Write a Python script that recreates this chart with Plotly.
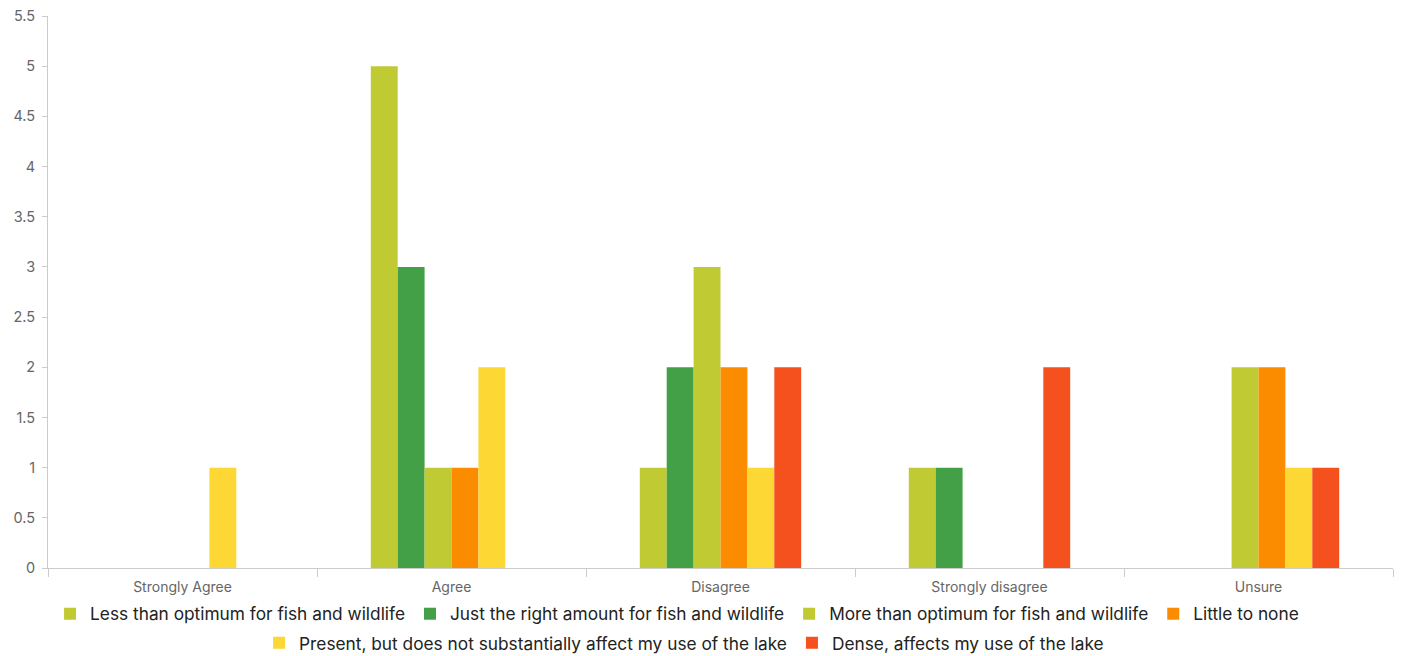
import plotly.graph_objects as go

categories = ["Strongly Agree", "Agree", "Disagree", "Strongly disagree", "Unsure"]
series_names = [
    "Less than optimum for fish and wildlife",
    "Just the right amount for fish and wildlife",
    "More than optimum for fish and wildlife",
    "Little to none",
    "Present, but does not substantially affect my use of the lake",
    "Dense, affects my use of the lake",
]
less_than_optimum = [0, 5, 1, 1, 0]
just_right = [0, 3, 2, 1, 0]
more_than_optimum = [0, 1, 3, 0, 2]
little_to_none = [0, 1, 2, 0, 2]
present_not_affect = [1, 2, 1, 0, 1]
dense_affects = [0, 0, 2, 2, 1]
colors = ["#C0CA33", "#43A047", "#C0CA33", "#FB8C00", "#FDD835", "#F4511E"]
legend_rows = ["legend", "legend", "legend", "legend", "legend2", "legend2"]

values = [less_than_optimum, just_right, more_than_optimum, little_to_none,
          present_not_affect, dense_affects]

fig = go.Figure()
for name, vals, col, lg in zip(series_names, values, colors, legend_rows):
    fig.add_trace(go.Bar(x=categories, y=vals, name=name, legend=lg,
                         marker=dict(color=col, line=dict(width=0))))

legend_common = dict(
    orientation="h",
    xanchor="center",
    yanchor="middle",
    font=dict(size=17.3, color="#222222", family="Inter, Roboto, sans-serif"),
    itemclick=False,
    itemdoubleclick=False,
    bgcolor="rgba(0,0,0,0)",
)

# the page body has an 8px margin, so the figure is sized/offset to compensate
fig.update_layout(
    barmode="group",
    bargap=0.4,
    bargroupgap=0,
    width=1395,
    height=648,
    margin=dict(l=40, r=10, t=8, b=88, autoexpand=False),
    plot_bgcolor="white",
    paper_bgcolor="white",
    font=dict(family="Inter, Roboto, sans-serif", color="#666666", size=14),
    legend=dict(x=0.4677, y=-0.0833, **legend_common),
    legend2=dict(x=0.4729, y=-0.1359, **legend_common),
    xaxis=dict(
        showline=True, linecolor="#cccccc", linewidth=1,
        ticks="outside", tickson="boundaries", ticklen=8, tickcolor="#cccccc",
        ticklabelstandoff=6,
        showgrid=False, tickfont=dict(size=14, color="#666666"),
    ),
    yaxis=dict(
        range=[0, 5.5], dtick=0.5,
        showline=True, linecolor="#cccccc", linewidth=1,
        ticks="outside", ticklen=5, tickcolor="#cccccc",
        ticklabelstandoff=4, ticklabeloverflow="allow",
        showgrid=False, zeroline=False, tickfont=dict(size=14.5, color="#666666"),
    ),
)

fig.write_html("out.html")
